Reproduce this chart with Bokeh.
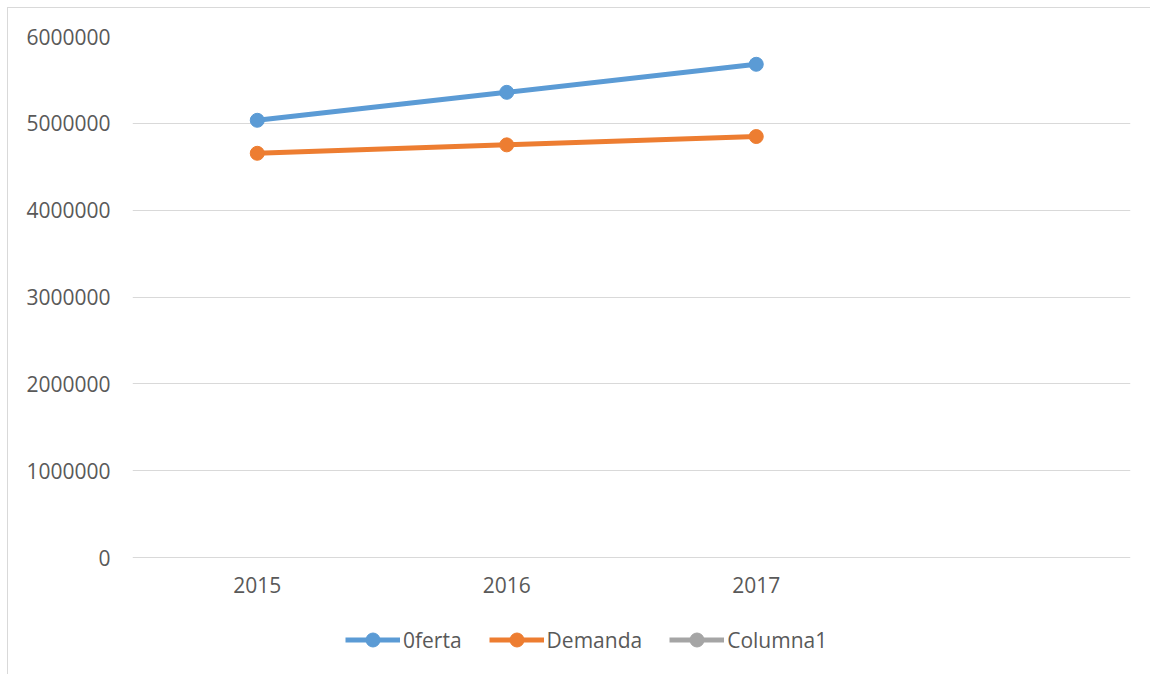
from bokeh.plotting import figure
from bokeh.models import (ColumnDataSource, FixedTicker, NumeralTickFormatter,
                          Range1d, Legend, LegendItem)
from bokeh.embed import file_html
from bokeh.resources import INLINE

years = [2015, 2016, 2017]
year_labels = ["2015", "2016", "2017"]
oferta = [5035000, 5357000, 5680000]
demanda = [4655000, 4752000, 4848000]
columna1 = [float("nan"), float("nan"), float("nan")]

FONT = "Open Sans"
TXT = "#595959"

# frame runs from the 6000000 line to the bottom of the page; 0 sits 118px above it
Y_TOP = 6000000
Y_BOTTOM = -118 / 521 * Y_TOP

p = figure(width=1143, height=667, output_backend="svg", toolbar_location=None,
           x_range=Range1d(2014.5, 2018.5), y_range=Range1d(Y_BOTTOM, Y_TOP),
           min_border_left=124, min_border_right=21, min_border_top=28,
           min_border_bottom=0)
p.styles = {"margin-left": "7px", "margin-top": "7px",
            "border-left": "1px solid #D9D9D9", "border-top": "1px solid #D9D9D9"}
p.outline_line_color = None
p.xgrid.grid_line_color = None
p.ygrid.grid_line_color = "#D9D9D9"
p.ygrid.grid_line_width = 1

p.yaxis.ticker = FixedTicker(ticks=[0, 1000000, 2000000, 3000000, 4000000, 5000000, 6000000])
p.yaxis.formatter = NumeralTickFormatter(format="0")
p.xaxis.ticker = FixedTicker(ticks=years)
p.xaxis.major_label_overrides = {y: l for y, l in zip(years, year_labels)}
p.xaxis.fixed_location = 0
for ax in (p.xaxis, p.yaxis):
    ax.axis_line_color = None
    ax.major_tick_line_color = None
    ax.minor_tick_line_color = None
    ax.major_tick_out = 0
    ax.major_tick_in = 0
    ax.major_label_text_font = FONT
    ax.major_label_text_font_size = "21px"
    ax.major_label_text_color = TXT
p.yaxis.major_label_standoff = 22
p.xaxis.major_label_standoff = 19

series = [("0ferta", oferta, "#5B9BD5"), ("Demanda", demanda, "#ED7D31"),
          ("Columna1", columna1, "#A5A5A5")]
items = []
for name, vals, col in series:
    src = ColumnDataSource(dict(x=years, y=vals))
    l = p.line("x", "y", source=src, line_color=col, line_width=5)
    c = p.scatter("x", "y", source=src, size=14, fill_color=col, line_color=col)
    items.append(LegendItem(label=name, renderers=[l, c]))

legend = Legend(items=items, orientation="horizontal", location=(213, 18),
                glyph_width=55, glyph_height=35, label_standoff=3, spacing=27,
                padding=0, margin=0, border_line_color=None,
                background_fill_alpha=0, label_text_font=FONT,
                label_text_font_size="21px", label_text_color=TXT)
p.add_layout(legend, "center")

open("out.html", "w").write(file_html(p, INLINE))
